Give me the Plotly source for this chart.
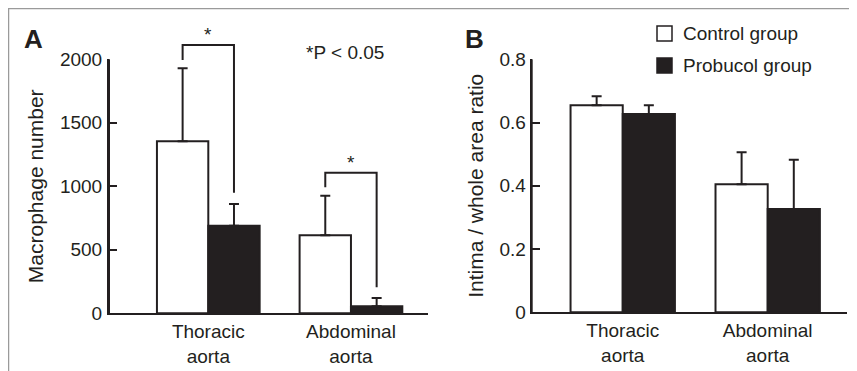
import plotly.graph_objects as go

# ---------------- data ----------------
categories = ["Thoracic<br>aorta", "Abdominal<br>aorta"]
series_names = ["Control group", "Probucol group"]

macro_control = [1355, 615]
macro_control_sd = [575, 310]
macro_probucol = [690, 55]
macro_probucol_sd = [170, 65]

ratio_control = [0.655, 0.405]
ratio_control_sd = [0.028, 0.101]
ratio_probucol = [0.627, 0.327]
ratio_probucol_sd = [0.028, 0.155]

macro_ticks = [0, 500, 1000, 1500, 2000]
ratio_ticks = [0, 0.2, 0.4, 0.6, 0.8]
ratio_tick_labels = ["0", "0.2", "0.4", "0.6", "0.8"]

# significance brackets (panel A): [top, left leg bottom, right leg bottom]
brackets = [(2113, 1995, 950), (1107, 992, 205)]

# ---------------- styling ----------------
OFF = 8                      # page body margin
W, H = 857 - OFF, 371 - OFF  # figure fits the window
INK = "#231f20"
FONT = "Liberation Sans, Arial, Helvetica, sans-serif"
BARGAP = 0.28
A_YMAX = macro_ticks[-1]

def px_x(p):
    return (p - OFF) / W

def px_y(p):
    return 1 - (p - OFF) / H

fig = go.Figure()

def add_bars(xa, ya, ctrl, ctrl_sd, prob, prob_sd):
    err = dict(type="data", symmetric=False, arrayminus=[0] * len(ctrl),
               thickness=2, width=5, color=INK)
    fig.add_trace(go.Bar(x=categories, y=ctrl, name=series_names[0],
                         marker=dict(color="white", line=dict(color=INK, width=2)),
                         error_y=dict(err, array=ctrl_sd),
                         xaxis=xa, yaxis=ya, showlegend=False))
    fig.add_trace(go.Bar(x=categories, y=prob, name=series_names[1],
                         marker=dict(color=INK, line=dict(color=INK, width=2)),
                         error_y=dict(err, array=prob_sd),
                         xaxis=xa, yaxis=ya, showlegend=False))

add_bars("x", "y", macro_control, macro_control_sd, macro_probucol, macro_probucol_sd)
add_bars("x2", "y2", ratio_control, ratio_control_sd, ratio_probucol, ratio_probucol_sd)

tickfont = dict(family=FONT, size=19, color=INK)
titlefont = dict(family=FONT, size=21, color=INK)

xcommon = dict(type="category", showline=True, linewidth=2, linecolor=INK,
               ticks="", showgrid=False, zeroline=False, tickfont=tickfont,
               fixedrange=True, automargin=False)
ycommon = dict(ticks="inside", ticklen=8, tickwidth=2, tickcolor=INK,
               showgrid=False, zeroline=False, tickfont=tickfont, showline=True,
               linewidth=2, linecolor=INK, automargin=False)

A_DOM_X = [px_x(109), px_x(428)]
A_DOM_Y = [px_y(313.3), px_y(59.3)]
B_DOM_X = [px_x(531.7), px_x(846.7)]
B_DOM_Y = [px_y(312.3), px_y(59.3)]

fig.update_layout(
    width=W, height=H,
    margin=dict(l=0, r=0, t=0, b=0, autoexpand=False),
    paper_bgcolor="white", plot_bgcolor="white",
    barmode="group", bargap=BARGAP, bargroupgap=0,
    showlegend=False,
    font=dict(family=FONT, color=INK),
    xaxis=dict(xcommon, domain=A_DOM_X, range=[-0.696, 1.54], anchor="y"),
    yaxis=dict(ycommon, domain=A_DOM_Y,
               range=[0, A_YMAX], tickvals=macro_ticks,
               ticklabelstandoff=1,
               title=dict(text="Macrophage number", font=titlefont, standoff=11),
               anchor="x"),
    xaxis2=dict(xcommon, domain=B_DOM_X, range=[-0.628, 1.545], anchor="y2"),
    yaxis2=dict(ycommon, domain=B_DOM_Y, range=[0, 0.8],
                tickvals=ratio_ticks, ticktext=ratio_tick_labels,
                ticklabelstandoff=0,
                title=dict(text="Intima / whole area ratio", font=titlefont, standoff=10),
                anchor="x2"),
)

shapes = []
# vertical axis lines (explicit, to be sure they show)
for dx, dy in [(A_DOM_X, A_DOM_Y), (B_DOM_X, B_DOM_Y)]:
    shapes.append(dict(type="line", xref="paper", yref="paper", x0=dx[0], x1=dx[0],
                       y0=dy[0], y1=dy[1], line=dict(color=INK, width=2)))

# brackets: legs at the bar centres within each group (drawn above the axis top)
half = (1 - BARGAP) / 4
for i, (top, lb, rb) in enumerate(brackets):
    xl, xr = i - half, i + half
    t, l, r = top / A_YMAX, lb / A_YMAX, rb / A_YMAX
    shapes.append(dict(type="path", xref="x", yref="y domain",
                       path=f"M {xl},{l} L {xl},{t} L {xr},{t} L {xr},{r}",
                       line=dict(color=INK, width=2)))

# frame lines (top and left)
shapes.append(dict(type="line", xref="paper", yref="paper", x0=0, x1=1,
                   y0=1, y1=1, line=dict(color="#9a9a9a", width=2.5)))
shapes.append(dict(type="line", xref="paper", yref="paper", x0=0, x1=0,
                   y0=1, y1=0, line=dict(color="#9a9a9a", width=2.5)))

# legend boxes
for cy, fill in [(33.5, "white"), (65.5, INK)]:
    shapes.append(dict(type="rect", xref="paper", yref="paper",
                       x0=px_x(657), x1=px_x(672), y0=px_y(cy - 7.5), y1=px_y(cy + 7.5),
                       fillcolor=fill, line=dict(color=INK, width=1.5)))

fig.update_layout(shapes=shapes)

ann = []
for i, (top, lb, rb) in enumerate(brackets):
    ann.append(dict(x=i, y=top / A_YMAX, xref="x", yref="y domain", text="*", showarrow=False,
                    xanchor="center", yanchor="bottom", yshift=-2,
                    font=dict(family=FONT, size=19, color=INK)))
ann.append(dict(x=px_x(345), y=px_y(52.7), xref="paper", yref="paper", text="*P < 0.05",
                showarrow=False, xanchor="center", yanchor="middle",
                font=dict(family=FONT, size=19, color=INK)))
ann.append(dict(x=px_x(33.5), y=px_y(39), xref="paper", yref="paper", text="<b>A</b>",
                showarrow=False, xanchor="center", yanchor="middle",
                font=dict(family=FONT, size=26, color=INK)))
ann.append(dict(x=px_x(474), y=px_y(39), xref="paper", yref="paper", text="<b>B</b>",
                showarrow=False, xanchor="center", yanchor="middle",
                font=dict(family=FONT, size=26, color=INK)))
for name, cy in zip(series_names, [33.5, 65.5]):
    ann.append(dict(x=px_x(681), y=px_y(cy), xref="paper", yref="paper", text=name,
                    showarrow=False, xanchor="left", yanchor="middle",
                    font=dict(family=FONT, size=19, color=INK)))
fig.update_layout(annotations=ann)

fig.write_html("out.html")
